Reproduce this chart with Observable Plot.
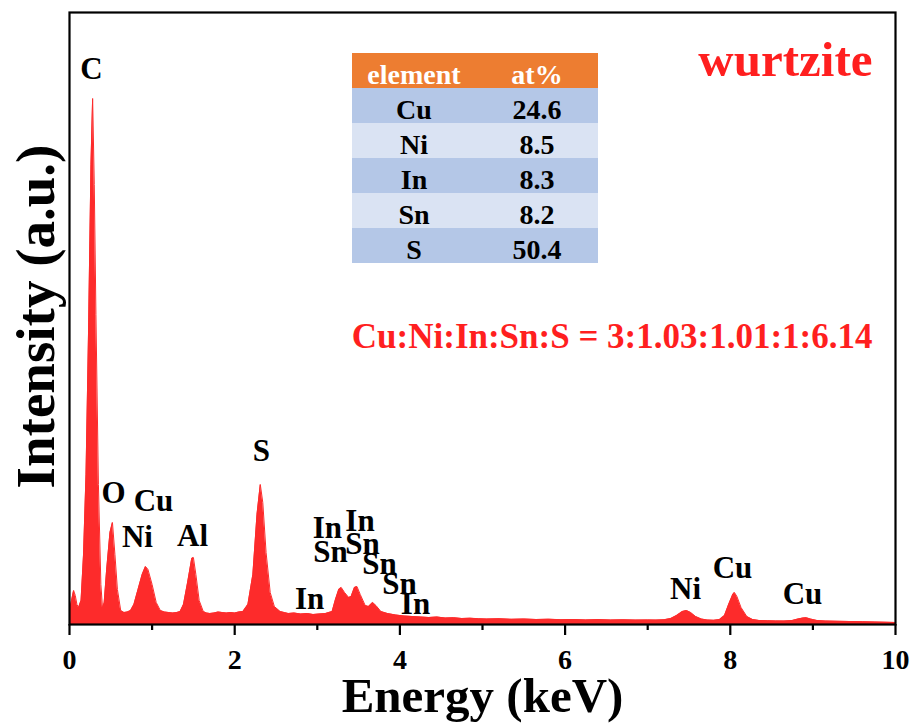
<!DOCTYPE html>
<html>
<head>
<meta charset="utf-8">
<script src="https://cdn.jsdelivr.net/npm/d3@7"></script>
<script src="https://cdn.jsdelivr.net/npm/@observablehq/plot@0.6"></script>
<style>
  html, body { margin: 0; padding: 0; background: white; }
  #wrap { position: relative; width: 917px; height: 724px; }
  #table { position: absolute; left: 352px; top: 53px; }
</style>
</head>
<body>
<div id="wrap"><div id="table"></div></div>
<script>
// ---- spectrum ----
const energy = [
  0.00,0.02,0.05,0.07,0.09,0.11,0.14,0.17,0.20,0.23,0.26,0.28,0.30,0.32,0.35,0.38,0.40,0.42,0.45,0.49,0.52,0.55,0.58,0.62,
  0.66,0.70,0.74,0.78,0.83,0.88,0.92,0.95,1.00,1.05,1.10,1.15,1.20,1.25,1.30,1.34,1.38,1.43,1.48,1.50,1.53,1.57,1.62,
  1.66,1.70,1.75,1.80,1.85,1.90,1.95,2.00,2.05,2.10,2.16,2.22,2.27,2.31,2.34,2.38,2.43,2.48,2.55,2.60,2.65,2.72,2.80,2.88,2.95,3.02,3.10,
  3.18,3.22,3.26,3.29,3.33,3.38,3.41,3.45,3.48,3.52,3.58,3.62,3.67,3.71,3.77,3.85,3.95,4.05,
  4.15,4.25,4.35,4.45,4.55,4.65,4.75,4.85,4.95,5.05,5.2,5.35,5.5,5.65,5.8,5.95,6.1,6.25,6.4,6.55,6.7,6.85,7.0,7.1,7.2,
  7.28,7.35,7.42,7.47,7.52,7.58,7.65,7.72,7.8,7.87,7.93,7.98,8.03,8.05,8.08,8.13,8.2,8.27,8.35,8.45,8.55,8.65,8.75,8.82,8.88,8.92,8.97,9.05,9.15,9.3,9.45,9.6,9.75,9.9,10.0
];
const intensity = [
  14,22,34,29,20,17,24,70,150,290,460,526,440,310,140,40,16,22,55,92,102,70,35,14,
  12,12.5,14,20,35,50,58,55,40,22,14,12.5,12,11.5,12,13,20,42,66,67,50,24,13,
  11.5,11,11.5,12.5,12,11.5,12,11.5,12.5,13,20,50,110,140,122,72,32,18,13,12,11,11.5,10.5,11,10,10.5,11,
  13,25,35,37,32,27,28,37,38,30,19,18,22,19,13,11,9.5,8.5,
  8,7.5,7,7.5,6.5,6.8,6,6.3,5.8,5.5,5.8,5.2,5.5,5,5.3,4.8,5,4.6,4.9,4.5,4.7,4.4,4.6,4.4,4.8,
  6,9,13,14,12,8,5.5,4.5,4.2,5,9,20,30,32,28,17,8,5,4,3.8,3.6,3.5,4,5.5,6.5,6.8,5.5,4,3.5,3.2,3,2.8,2.5,2.2,2
];

// ---- axis ticks ----
const majorTicks = [0, 2, 4, 6, 8, 10];
const minorTicks = [1, 3, 5, 7, 9];

// ---- peak labels ----
const peakLabels = ["C","O","Cu","Ni","Al","S","In","In","Sn","In","Sn","Sn","Sn","In","Ni","Cu","Cu"];
const peakEnergy = [0.266,0.533,1.017,0.823,1.489,2.324,2.906,3.123,3.16,3.517,3.547,3.753,3.995,4.189,7.458,8.027,8.874];
const peakHeight = [546,122,114,78,79,164,16,87,63,94,71,51,31,11,26,47,21];

// ---- composition table ----
const tableHeader = ["element", "at%"];
const elements = ["Cu", "Ni", "In", "Sn", "S"];
const atPercent = ["24.6", "8.5", "8.3", "8.2", "50.4"];

const sampleName = "wurtzite";
const ratioText = "Cu:Ni:In:Sn:S = 3:1.03:1.01:1:6.14";

const RED = "#fd2b2b";
const TEXT_RED = "#ff1f1f";
const FONT = "'Liberation Serif', 'Times New Roman', Times, serif";

const spectrum = energy.map((e, i) => ({e, v: intensity[i]}));
const labels = peakLabels.map((t, i) => ({t, e: peakEnergy[i], v: peakHeight[i]}));

const chart = Plot.plot({
  width: 917,
  height: 724,
  marginLeft: 69,
  marginRight: 22,
  marginTop: 12,
  marginBottom: 100,
  style: {fontFamily: FONT, fontWeight: "bold", background: "white", color: "black", overflow: "visible"},
  x: {domain: [0, 10], axis: null},
  y: {domain: [0, 612], axis: null},
  marks: [
    Plot.areaY(spectrum, {x: "e", y: "v", fill: RED}),
    Plot.lineY(spectrum, {x: "e", y: "v", stroke: RED, strokeWidth: 1}),
    Plot.axisX({ticks: majorTicks, tickSize: 11, tickPadding: 14, strokeWidth: 2.2, fontSize: 28, fontWeight: "bold", fontFamily: FONT, tickFormat: d => String(d), label: null}),
    Plot.axisX({ticks: minorTicks, tickSize: 6, strokeWidth: 2.2, text: null, label: null}),
    Plot.frame({stroke: "black", strokeWidth: 2.2}),
    Plot.text(labels, {x: "e", y: "v", text: "t", fontSize: 31, fontWeight: "bold", fontFamily: FONT, fill: "black", lineAnchor: "bottom"}),
    Plot.text([sampleName], {frameAnchor: "top-right", textAnchor: "end", lineAnchor: "bottom", dx: -23, dy: 63, fontSize: 49, fontWeight: "bold", fontFamily: FONT, fill: TEXT_RED}),
    Plot.text([ratioText], {frameAnchor: "top-right", textAnchor: "end", lineAnchor: "bottom", dx: -23, dy: 335, fontSize: 35, fontWeight: "bold", fontFamily: FONT, fill: TEXT_RED}),
    Plot.text(["Intensity (a.u.)"], {frameAnchor: "left", textAnchor: "middle", rotate: -90, lineAnchor: "bottom", dx: -16, dy: -2, fontSize: 55, fontWeight: "bold", fontFamily: FONT, fill: "black"}),
    Plot.text(["Energy (keV)"], {frameAnchor: "bottom", textAnchor: "middle", lineAnchor: "bottom", dy: 87, fontSize: 49, fontWeight: "bold", fontFamily: FONT, fill: "black"})
  ]
});
document.getElementById("wrap").insertBefore(chart, document.getElementById("table"));

// ---- table as a small Plot ----
const rows = [{key: "header", left: tableHeader[0], right: tableHeader[1], kind: "h"}]
  .concat(elements.map((el, i) => ({key: el, left: el, right: atPercent[i], kind: i % 2 === 0 ? "d" : "l"})));
const colLeft = rows.map(() => 0.5);
const colRight = rows.map(() => 1.5);

const table = Plot.plot({
  width: 246,
  height: 210,
  margin: 0,
  style: {fontFamily: FONT, fontWeight: "bold", background: "transparent", overflow: "visible"},
  x: {domain: [0, 2], axis: null},
  y: {domain: rows.map(r => r.key), axis: null, padding: 0},
  color: {domain: ["h", "d", "l"], range: ["#ed7d31", "#b4c7e7", "#dae3f3"]},
  marks: [
    Plot.cell(rows, {y: "key", fill: "kind"}),
    Plot.text(rows, {x: colLeft, y: "key", text: "left", fill: d => d.kind === "h" ? "#ffffff" : "#000000", fontSize: 28, fontWeight: "bold", fontFamily: FONT, dy: 4}),
    Plot.text(rows, {x: colRight, y: "key", text: "right", fill: d => d.kind === "h" ? "#ffffff" : "#000000", fontSize: 28, fontWeight: "bold", fontFamily: FONT, dy: 4})
  ]
});
document.getElementById("table").appendChild(table);
</script>
</body>
</html>
